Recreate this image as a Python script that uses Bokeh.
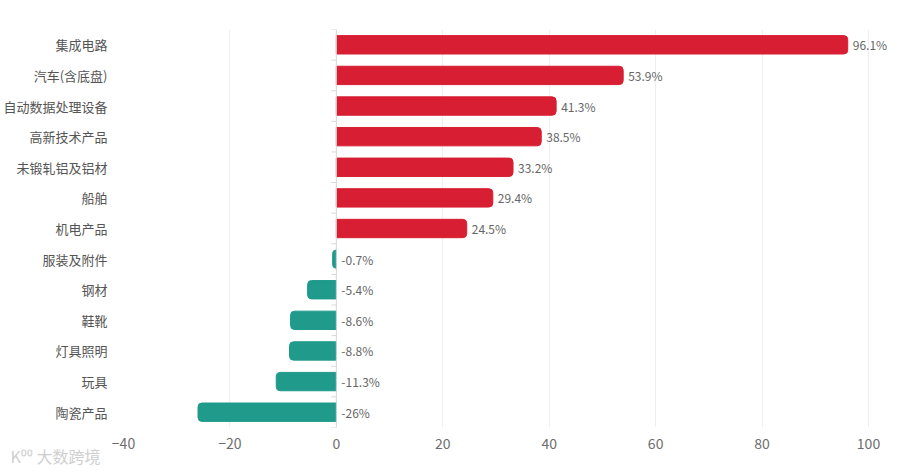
from bokeh.plotting import figure
from bokeh.models import Range1d, FactorRange, Span, ColumnDataSource, FixedTicker, Title, LabelSet
from bokeh.core.properties import value
from bokeh.transform import dodge
from bokeh.embed import file_html
from bokeh.resources import INLINE

categories = ["集成电路", "汽车(含底盘)", "自动数据处理设备", "高新技术产品", "未锻轧铝及铝材",
              "船舶", "机电产品", "服装及附件", "钢材", "鞋靴", "灯具照明", "玩具", "陶瓷产品"]
values = [96.1, 53.9, 41.3, 38.5, 33.2, 29.4, 24.5, -0.7, -5.4, -8.6, -8.8, -11.3, -26]
x_ticks = [-40, -20, 0, 20, 40, 60, 80, 100]

RED = "#d81e32"
TEAL = "#1f9a8b"
FONT = "Noto Sans CJK SC"

labels = [f"{v:g}%" for v in values]
label_x = [max(v, 0) for v in values]

W, H = 900, 473
LEFT, RIGHT, TOP, BOTTOM = 123, 0, 29, 45
AXIS_PX = 745  # pixel span of the -40..100 axis
frame_w = W - LEFT - RIGHT
x_hi = x_ticks[0] + frame_w * (x_ticks[-1] - x_ticks[0]) / AXIS_PX

p = figure(width=W, height=H, output_backend="svg", toolbar_location=None,
           x_range=Range1d(x_ticks[0], x_hi), y_range=FactorRange(*reversed(categories)),
           min_border_left=LEFT, min_border_right=RIGHT, min_border_top=TOP,
           min_border_bottom=BOTTOM)
p.outline_line_color = None
p.background_fill_color = "white"
p.border_fill_color = "white"

pos = ColumnDataSource(dict(cat=[c for c, v in zip(categories, values) if v >= 0],
                            v=[v for v in values if v >= 0]))
neg = ColumnDataSource(dict(cat=[c for c, v in zip(categories, values) if v < 0],
                            v=[v for v in values if v < 0]))
p.hbar(y="cat", left=0, right="v", height=0.6, source=pos, color=RED,
       border_radius=(0, 4, 4, 0))
p.hbar(y="cat", left="v", right=0, height=0.6, source=neg, color=TEAL,
       border_radius=(4, 0, 0, 4))

lab = ColumnDataSource(dict(cat=categories, x=label_x, t=labels))
p.add_layout(LabelSet(x="x", y="cat", text="t", source=lab, x_offset=5, level="overlay",
                      text_baseline="middle", text_align="left", text_font=value(FONT),
                      text_font_size="12px", text_color="#666666"))

# zero axis line with small ticks at category boundaries
p.add_layout(Span(location=0, dimension="height", line_color="#d9d9d9", line_width=1))
p.segment(x0=0, x1=-0.95, y0=dodge("cat", -0.5, range=p.y_range),
          y1=dodge("cat", -0.5, range=p.y_range),
          source=ColumnDataSource(dict(cat=list(reversed(categories)))),
          line_color="#d9d9d9", line_width=1)
p.segment(x0=0, x1=-0.95, y0=dodge("cat", 0.5, range=p.y_range),
          y1=dodge("cat", 0.5, range=p.y_range),
          source=ColumnDataSource(dict(cat=[categories[0]])),
          line_color="#d9d9d9", line_width=1)

p.xaxis.ticker = FixedTicker(ticks=x_ticks)
p.xaxis.axis_line_color = None
p.xaxis.major_tick_line_color = None
p.xaxis.minor_tick_line_color = None
p.xaxis.major_tick_out = 0
p.xaxis.major_label_text_font = FONT
p.xaxis.major_label_text_font_size = "14px"
p.xaxis.major_label_text_color = "#6e6e6e"
p.xaxis.major_label_standoff = 10

p.yaxis.axis_line_color = None
p.yaxis.major_tick_line_color = None
p.yaxis.minor_tick_line_color = None
p.yaxis.major_label_text_font = FONT
p.yaxis.major_label_text_font_size = "13px"
p.yaxis.major_label_text_color = "#555555"
p.yaxis.major_label_standoff = 10

p.xgrid.grid_line_color = "#efefef"
p.xgrid.ticker = FixedTicker(ticks=x_ticks)
p.ygrid.grid_line_color = None

p.add_layout(Title(text="K⁰⁰ 大数跨境\n", align="left", offset=-113, standoff=-18,
                   text_line_height=0.6,
                   text_font=FONT, text_font_size="16px", text_font_style="normal",
                   text_color="#cfcfcf"), "below")

open("out.html", "w").write(file_html(p, INLINE))
